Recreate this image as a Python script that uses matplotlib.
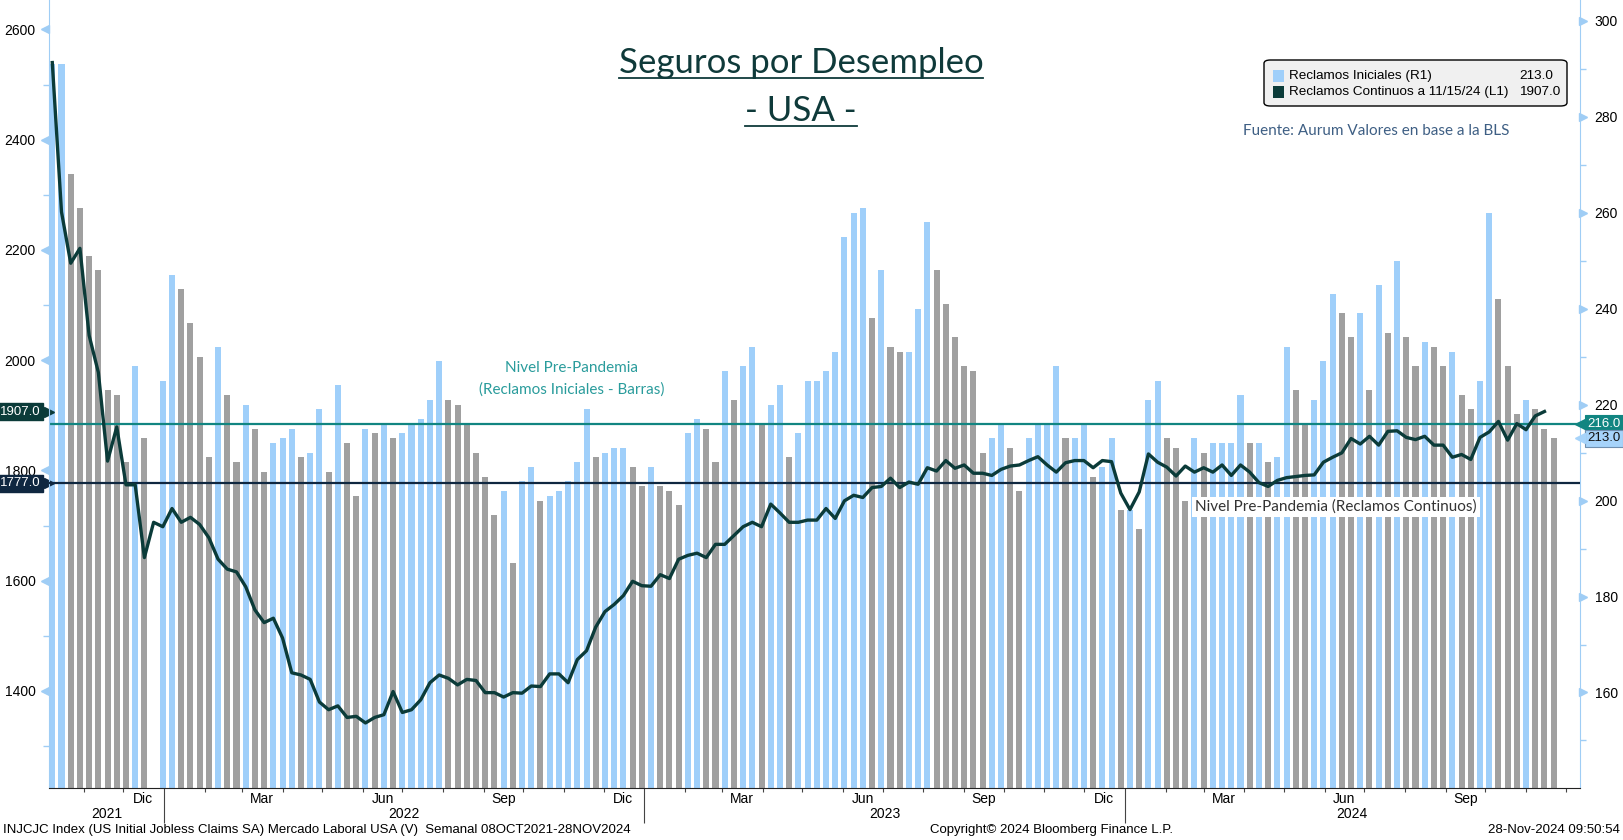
import numpy as np
import pandas as pd
import matplotlib
matplotlib.use("Agg")
import matplotlib.pyplot as plt
import matplotlib.dates as mdates
import matplotlib.transforms as mtransforms
from matplotlib.ticker import FixedLocator, NullFormatter
from matplotlib.patches import FancyBboxPatch, Rectangle
from matplotlib.lines import Line2D

# Reclamos iniciales semanales (miles, eje derecho). Falta la semana del 24-Dic-2021.
iniciales = [291, 291, 268, 261, 251, 248, 223, 222, 208, 228, 213,
             225, 247, 244, 237, 230, 209, 232, 222, 208, 220, 215, 206, 212, 213, 215, 209,
             210, 219, 206, 224, 212, 201, 215, 214, 216, 213, 214, 216, 217, 221, 229, 221,
             220, 216, 210, 205, 197, 202, 187, 204, 207, 200, 201, 202,
             204, 208, 219, 209, 210, 211, 211, 207, 203, 207, 203, 202, 199, 214, 217, 215,
             208, 227, 221, 228, 232, 216, 220, 224, 209, 214, 225, 225,
             227, 231, 255, 260, 261, 238, 248, 232, 231, 231, 240, 258, 248, 241, 234, 228,
             227, 210, 213, 216, 211, 202, 213, 216, 216, 228, 213, 213,
             216, 205, 207, 213, 198, 198, 194, 221, 225, 213, 211, 200, 213, 210, 212, 212,
             212, 222, 212, 212, 208, 209, 232, 223, 216, 221, 229, 243, 239,
             234, 239, 223, 245, 235, 250, 234, 228, 233, 232, 228, 231, 222, 219, 225, 260,
             242, 228, 218, 221, 219, 215, 213]

# Reclamos continuos (miles, eje izquierdo), una semana de rezago
continuos = [2540, 2269, 2176, 2203, 2045, 1978, 1817, 1879, 1774, 1774, 1642, 1706, 1698, 1731,
             1706, 1715, 1702, 1678, 1639, 1621, 1616, 1589, 1547, 1524, 1532, 1496, 1433, 1429,
             1421, 1380, 1366, 1373, 1352, 1354, 1342, 1352, 1357, 1399, 1361, 1366, 1384, 1415,
             1429, 1423, 1411, 1421, 1419, 1397, 1397, 1389, 1397, 1396, 1409, 1408, 1431, 1431,
             1415, 1457, 1473, 1516, 1544, 1557, 1573, 1599, 1591, 1590, 1611, 1604, 1639, 1646,
             1650, 1642, 1666, 1666, 1682, 1698, 1706, 1698, 1739, 1723, 1706, 1706, 1710, 1710,
             1731, 1713, 1745, 1755, 1751, 1769, 1771, 1786, 1769, 1779, 1775, 1805, 1799, 1818,
             1804, 1810, 1795, 1795, 1791, 1802, 1808, 1810, 1818, 1825, 1810, 1797, 1814, 1818,
             1818, 1805, 1818, 1816, 1759, 1729, 1761, 1830, 1815, 1806, 1790, 1808, 1797, 1805,
             1797, 1810, 1791, 1810, 1797, 1778, 1771, 1782, 1787, 1789, 1791, 1792, 1815, 1824,
             1832, 1858, 1848, 1862, 1846, 1871, 1872, 1860, 1856, 1862, 1846, 1846, 1824, 1829,
             1820, 1860, 1870, 1889, 1855, 1885, 1874, 1899, 1907]

semanas = pd.date_range("2021-10-08", periods=164, freq="7D")
fechas_barras = semanas.delete(11)
fechas_linea = semanas[:len(continuos)]

pre_iniciales = 216.0
pre_continuos = 1777.0

meses = {12: "Dic", 3: "Mar", 6: "Jun", 9: "Sep"}
anios = [2021, 2022, 2023, 2024]

AZUL = "#9fcffa"
GRIS = "#a0a0a0"
LINEA = "#0b3b39"
TEAL = "#118581"
NAVY = "#0f2740"
EJE = "#9fcdf5"
TIT = "#0f3a3a"
FONT = "Liberation Sans"
ROUND = "Lato"

W, H = 1624, 840
fig = plt.figure(figsize=(W / 100, H / 100), dpi=100)
ax = fig.add_axes([49 / W, 1 - 788 / H, (1580 - 49) / W, 788 / H])
ax2 = ax.twinx()
ax.set_zorder(ax2.get_zorder() + 1)
ax.patch.set_visible(False)

# barras coloreadas segun suba / baje contra la semana anterior
vals = np.array(iniciales, dtype=float)
sube = np.r_[True, vals[1:] >= vals[:-1]]
ax2.bar(mdates.date2num(fechas_barras), vals, width=4.6,
        color=np.where(sube, AZUL, GRIS), zorder=1)
ax2.axhline(pre_iniciales, color=TEAL, lw=1.6, zorder=3)

ax.plot(mdates.date2num(fechas_linea), continuos, color=LINEA, lw=2.4, zorder=4)
ax.axhline(pre_continuos, color=NAVY, lw=1.6, zorder=3)

xl = mdates.date2num(semanas[0]) - 2.5
xr = mdates.date2num(semanas[-1]) + 20
ax.set_xlim(xl, xr)
ax.set_ylim(1224, 2653.5)
ax2.set_ylim(140.1, 304.3)

# ejes y
yt_l = np.arange(1400, 2601, 200)
yt_r = np.arange(160, 301, 20)
ax.yaxis.set_major_locator(FixedLocator(yt_l))
ax.yaxis.set_minor_locator(FixedLocator(yt_l - 100))
ax2.yaxis.set_major_locator(FixedLocator(yt_r))
ax2.yaxis.set_minor_locator(FixedLocator(yt_r - 10))
ax.tick_params(axis="y", which="major", length=0, pad=9.5, labelsize=10)
ax2.tick_params(axis="y", which="major", length=0, pad=10.5, labelsize=10)
for a in (ax, ax2):
    a.tick_params(axis="y", which="minor", length=4, width=1, color=EJE)
    for lab in a.get_yticklabels():
        lab.set_family(FONT)

ax.plot(np.zeros(len(yt_l)), yt_l, ls="none", marker="<", ms=6, color=EJE, clip_on=False,
        transform=mtransforms.offset_copy(ax.get_yaxis_transform(), fig=fig, x=-3.5, units="dots"))
ax2.plot(np.ones(len(yt_r)), yt_r, ls="none", marker=">", ms=6, color=EJE, clip_on=False,
         transform=mtransforms.offset_copy(ax2.get_yaxis_transform(), fig=fig, x=3.5, units="dots"))

for s in ("top", "right"):
    ax.spines[s].set_visible(False)
for s in ("top", "left", "bottom"):
    ax2.spines[s].set_visible(False)
ax.spines["left"].set_color(EJE)
ax2.spines["right"].set_color(EJE)
ax.spines["bottom"].set_color("#222222")

# eje x: marcas por mes, marcas largas por año
inicio_anio = [mdates.date2num(pd.Timestamp(y, 1, 1)) for y in anios[1:]]
ax.xaxis.set_major_locator(FixedLocator(inicio_anio))
ax.xaxis.set_minor_locator(mdates.MonthLocator())
ax.xaxis.set_major_formatter(NullFormatter())
ax.xaxis.set_minor_formatter(NullFormatter())
ax.tick_params(axis="x", which="major", length=25, width=0.8, color="#444444")
ax.tick_params(axis="x", which="minor", length=3, width=0.8, color="#444444")

tx = ax.get_xaxis_transform()
for y in anios:
    for m, nombre in meses.items():
        d = mdates.date2num(pd.Timestamp(y, m, 16))
        if xl < d < xr:
            ax.text(d, -0.014, nombre, transform=tx, ha="center", va="center",
                    fontsize=10, family=FONT)
    a0 = max(xl, mdates.date2num(pd.Timestamp(y, 1, 1)))
    a1 = min(xr, mdates.date2num(pd.Timestamp(y + 1, 1, 1)))
    ax.text((a0 + a1) / 2, -0.033, str(y), transform=tx, ha="center", va="center",
            fontsize=10, family=FONT)

# etiquetas de valores en los ejes
tl = mtransforms.blended_transform_factory(ax.transAxes, ax.transData)
tr = mtransforms.blended_transform_factory(ax2.transAxes, ax2.transData)
for val, fc in ((continuos[-1], LINEA), (pre_continuos, NAVY)):
    ax.text(-0.0055, val, f"{val:.1f}", transform=tl, ha="right", va="center", color="white",
            fontsize=9.5, family=FONT, clip_on=False,
            bbox=dict(boxstyle="square,pad=0.2", fc=fc, ec=fc))
    ax.plot([0], [val], marker=">", ms=7, color=fc, transform=tl, clip_on=False)
for val, fc, ec, tc in ((pre_iniciales, TEAL, TEAL, "white"), (iniciales[-1], "#a6d3fa", "#6f8fb0", "#111111")):
    ax2.text(1.0048, val, f"{val:.1f}", transform=tr, ha="left", va="center", color=tc,
             fontsize=9.5, family=FONT, clip_on=False, zorder=6,
             bbox=dict(boxstyle="square,pad=0.2", fc=fc, ec=ec, lw=0.8))
    ax2.plot([1], [val], marker="<", ms=7, color=fc, transform=tr, clip_on=False, zorder=6)

# textos de niveles
fig.text(572 / W, 1 - 368 / H, "Nivel Pre-Pandemia", ha="center", va="center",
         fontsize=11, color="#2a9c9c", family=ROUND)
fig.text(572 / W, 1 - 390 / H, "(Reclamos Iniciales - Barras)", ha="center", va="center",
         fontsize=11, color="#2a9c9c", family=ROUND)
fig.text(1336 / W, 1 - 507 / H, "Nivel Pre-Pandemia (Reclamos Continuos)", ha="center",
         va="center", fontsize=11, color="#333333", family=ROUND, zorder=5,
         bbox=dict(boxstyle="square,pad=0.2", fc="white", ec="none"))
fig.text(1376 / W, 1 - 131 / H, "Fuente: Aurum Valores en base a la BLS", ha="center",
         va="center", fontsize=11, color="#3e5f84", family=ROUND)

# titulo subrayado
t1 = fig.text(801 / W, 1 - 73 / H, "Seguros por Desempleo", ha="center", va="baseline",
              fontsize=25, color=TIT, family=ROUND)
t2 = fig.text(801 / W, 1 - 121 / H, "- USA -", ha="center", va="baseline",
              fontsize=25, color=TIT, family=ROUND)

# leyenda
fig.add_artist(FancyBboxPatch((1264 / W, 1 - 106 / H), 303 / W, 46 / H,
                              boxstyle="round,pad=0,rounding_size=0.004",
                              transform=fig.transFigure, fc="#f0f0f0", ec="black", lw=1))
filas = [("Reclamos Iniciales (R1)", f"{iniciales[-1]:.1f}", AZUL, 76),
         ("Reclamos Continuos a 11/15/24 (L1)", f"{continuos[-1]:.1f}", LINEA, 92)]
for nombre, valor, c, yy in filas:
    fig.add_artist(Rectangle((1273 / W, 1 - (yy + 6) / H), 11 / W, 12 / H,
                             transform=fig.transFigure, fc=c, ec="none"))
    fig.text(1289 / W, 1 - yy / H, nombre, va="center", fontsize=9.7, family=FONT)
    fig.text(1519 / W, 1 - yy / H, valor, va="center", fontsize=9.7, family=FONT)

# pie
fy = 1 - 830 / H
fig.text(3 / W, fy, "INJCJC Index (US Initial Jobless Claims SA) Mercado Laboral USA (V)  "
         "Semanal 08OCT2021-28NOV2024", va="center", fontsize=9.5, family=FONT)
fig.text(1052 / W, fy, "Copyright\u00a9 2024 Bloomberg Finance L.P.", ha="center",
         va="center", fontsize=9.5, family=FONT)
fig.text(1620 / W, fy, "28-Nov-2024 09:50:54", ha="right", va="center", fontsize=9.5,
         family=FONT)

fig.canvas.draw()
for t, yline in ((t1, 78), (t2, 126)):
    bb = t.get_window_extent()
    fig.add_artist(Line2D([bb.x0 / W, bb.x1 / W], [1 - yline / H] * 2, color=TIT, lw=1.3))

fig.savefig("out.png", dpi=100)
